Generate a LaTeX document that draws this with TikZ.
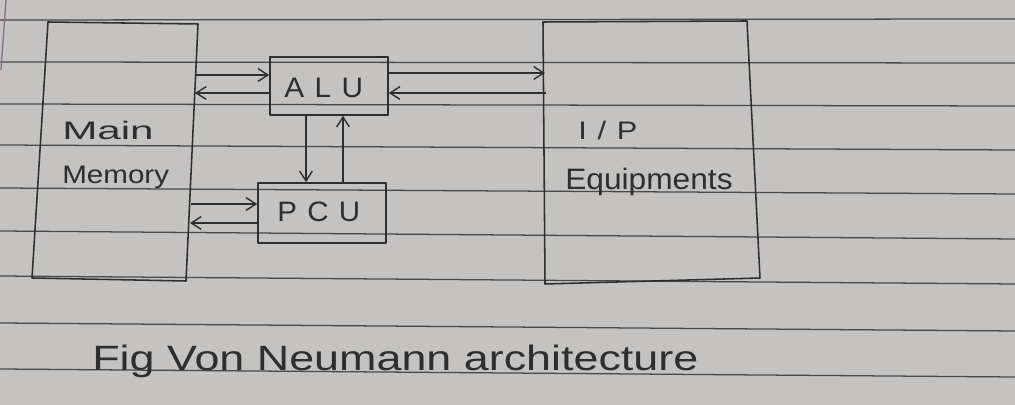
\documentclass[tikz,border=0pt]{standalone}
\usepackage{fontspec}
\usepackage{graphicx}
\setmainfont{Liberation Sans}
\newfontfamily\spaced[LetterSpace=35]{Liberation Sans}
\usetikzlibrary{arrows.meta}
\definecolor{paper}{HTML}{C4C3C1}
\definecolor{rule}{HTML}{484848}
\definecolor{ink}{HTML}{2E2E2E}
\definecolor{margin}{HTML}{8A6A88}
\newcommand\hw[2]{\resizebox{#1}{\height}{#2}}
\tikzset{
  ruled/.style={draw=rule, line width=0.9pt},
  inkline/.style={draw=ink, line width=1.1pt, line join=round},
  blockbox/.style={inkline, rectangle, inner sep=0pt},
  flow/.style={inkline, -{Straight Barb[length=7pt,width=9pt,line width=1pt]}},
  label/.style={text=ink, inner sep=0pt, anchor=base west},
}
\begin{document}
\begin{tikzpicture}[x=0.025cm,y=-0.025cm]
\useasboundingbox (0,0) rectangle (1015,405);
\fill[paper] (0,0) rectangle (1015,405);
% ruled lines of the paper
\foreach \a/\b in {20/19, 62/63, 104/106, 145/150, 188/194, 231/239, 276/284, 323/331, 369/377}
  \draw[ruled] (0,\a) -- (1015,\b);
\draw[margin, line width=0.9pt] (6,0) -- (1,70);

% Main memory block
\coordinate (mmTL) at (48,22);
\coordinate (mmTR) at (198,24);
\coordinate (mmBR) at (186,281);
\coordinate (mmBL) at (32,278);
\draw[inkline] (mmTL) -- (mmTR) -- (mmBR) -- (mmBL) -- cycle;
\node[label] (main) at (62,140) {\fontsize{18}{20}\selectfont\hw{65pt}{Main}};
\node[label] (memory) at (62,184) {\fontsize{18}{20}\selectfont\hw{76pt}{Memory}};

% I/P equipments block
\coordinate (ipTL) at (543,22);
\coordinate (ipTR) at (747,21);
\coordinate (ipBR) at (760,278);
\coordinate (ipBL) at (545,284);
\draw[inkline] (ipTL) -- (ipTR) -- (ipBR) -- (ipBL) -- cycle;
\node[label] (ip) at (578,140) {\fontsize{18}{20}\spaced\hw{42pt}{I/P}};
\node[label] (equip) at (565,190) {\fontsize{21}{23}\selectfont\hw{119pt}{Equipments}};

% ALU and PCU
\node[blockbox, minimum width=118*0.025cm, minimum height=58*0.025cm] (alu) at (329,86) {};
\node[label] (alutext) at (284,98) {\fontsize{20}{22}\spaced\hw{56pt}{ALU}};
\node[blockbox, minimum width=128*0.025cm, minimum height=60*0.025cm] (pcu) at (322,213) {};
\node[label] (pcutext) at (277,222) {\fontsize{20}{22}\spaced\hw{59pt}{PCU}};

% connector ends on the big blocks
\coordinate (mmA1) at (196,75);
\coordinate (mmA2) at (195,93);
\coordinate (mmP1) at (191,204);
\coordinate (mmP2) at (190,223);
\coordinate (ipA1) at (545,73);
\coordinate (ipA2) at (546,93);

% connectors
\draw[flow] (mmA1) -- (alu.west |- mmA1);
\draw[flow] (alu.west |- mmA2) -- (mmA2);
\draw[flow] (alu.east |- ipA1) -- (ipA1);
\draw[flow] (ipA2) -- (alu.east |- ipA2);
\draw[flow] (alu.south -| 306,0) -- (pcu.north -| 306,0);
\draw[flow] (pcu.north -| 343,0) -- (alu.south -| 343,0);
\draw[flow] (mmP1) -- (pcu.west |- mmP1);
\draw[flow] (pcu.west |- mmP2) -- (mmP2);

% caption
\node[label] (caption) at (92,371) {\fontsize{25}{27}\selectfont\hw{431pt}{Fig Von Neumann architecture}};
\end{tikzpicture}
\end{document}
